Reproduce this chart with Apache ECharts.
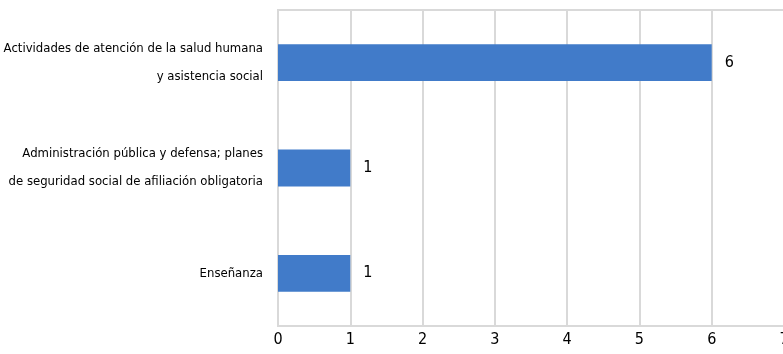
<!DOCTYPE html>
<html>
<head>
<meta charset="utf-8">
<script src="https://cdn.jsdelivr.net/npm/echarts@6/dist/echarts.min.js"></script>
<style>
html,body{margin:0;padding:0;background:#fff;}
#c{width:783px;height:354px;}
</style>
</head>
<body>
<div id="c"></div>
<script>
const categories = [
  "Actividades de atención de la salud humana\ny asistencia social",
  "Administración pública y defensa; planes\nde seguridad social de afiliación obligatoria",
  "Enseñanza"
];
const values = [6, 1, 1];
const xTicks = [0, 1, 2, 3, 4, 5, 6, 7];

const FONT = '"Liberation Sans Narrow", "DejaVu Sans Condensed", "Arial Narrow", sans-serif';
const chart = echarts.init(document.getElementById('c'), null, {renderer: 'canvas'});
chart.setOption({
  animation: false,
  grid: {
    left: 278, top: 10, width: 506, height: 316,
    show: true, borderColor: '#d9d9d9', borderWidth: 2,
    containLabel: false, outerBoundsMode: 'none'
  },
  xAxis: {
    type: 'value',
    min: xTicks[0], max: xTicks[xTicks.length - 1], interval: 1,
    axisLine: {show: true, lineStyle: {color: '#d9d9d9', width: 2}},
    axisTick: {show: false},
    splitLine: {show: true, lineStyle: {color: '#d9d9d9', width: 2}},
    axisLabel: {color: '#000', fontFamily: FONT, fontSize: 16, margin: 6}
  },
  yAxis: {
    type: 'category',
    inverse: true,
    data: categories,
    axisLine: {show: false},
    axisTick: {show: false},
    axisLabel: {color: '#000', fontFamily: FONT, fontSize: 13, lineHeight: 28, margin: 15, align: 'right'}
  },
  series: [{
    type: 'bar',
    data: values,
    barWidth: '35%',
    itemStyle: {color: '#417bc9'},
    label: {show: true, position: 'right', distance: 13, color: '#000', fontFamily: FONT, fontSize: 16}
  }]
});
</script>
</body>
</html>
